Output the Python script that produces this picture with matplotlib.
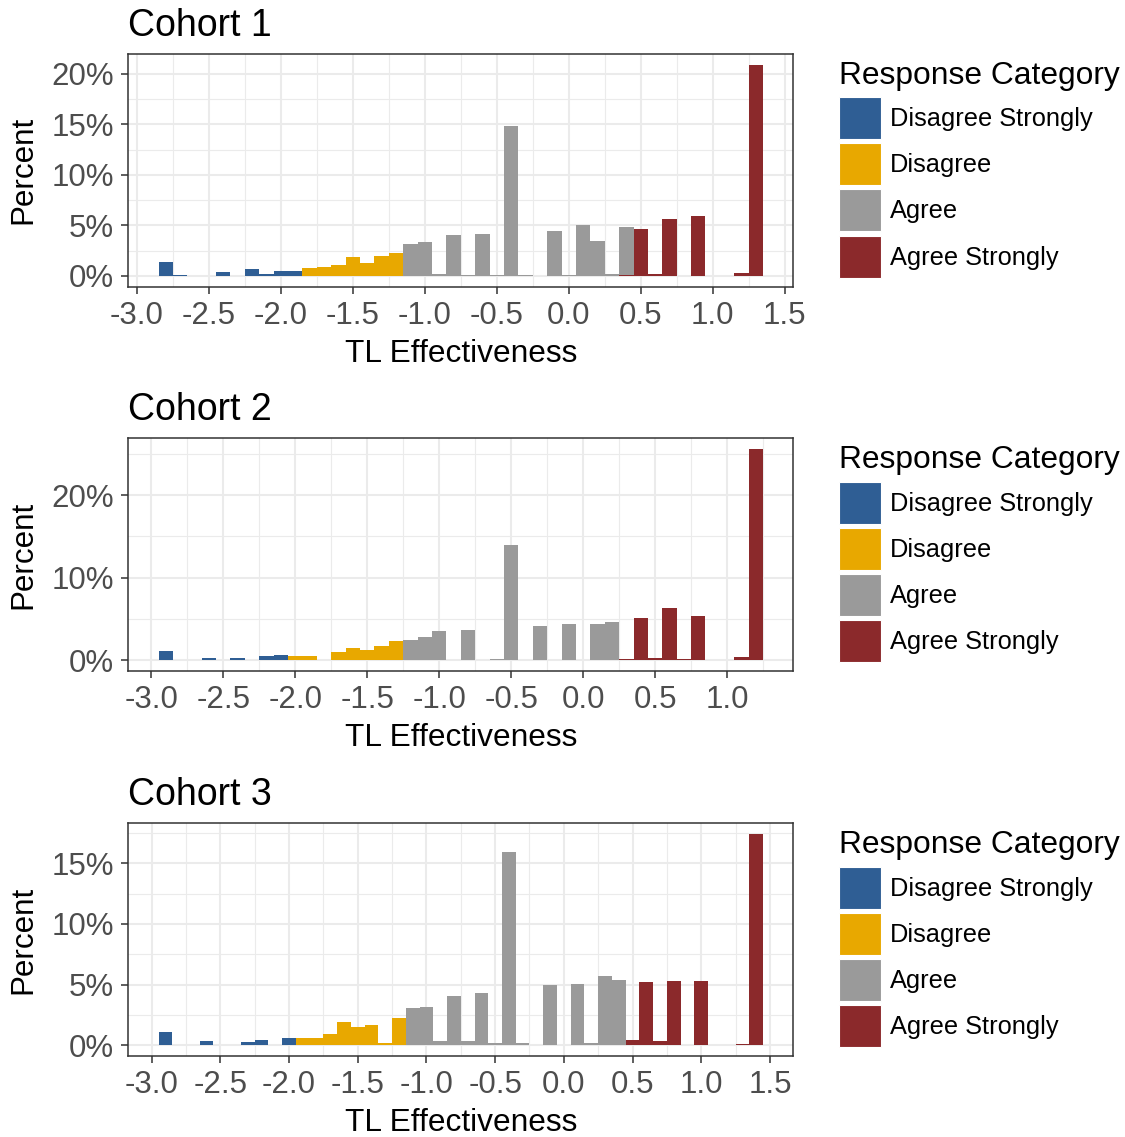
import matplotlib
matplotlib.use("Agg")
import matplotlib.pyplot as plt
import numpy as np
from matplotlib.patches import Patch
from matplotlib.ticker import MultipleLocator, FuncFormatter

plt.rcParams['font.family'] = ['Liberation Sans', 'DejaVu Sans']
plt.rcParams['axes.unicode_minus'] = False

# ---------------- data ----------------
categories = ["Disagree Strongly", "Disagree", "Agree", "Agree Strongly"]
colors = ["#2F5E94", "#E8A800", "#9A9A9A", "#8B292B"]
cohort_titles = ["Cohort 1", "Cohort 2", "Cohort 3"]
x_label = "TL Effectiveness"
y_label = "Percent"
legend_title = "Response Category"
bin_width = 0.1

# first bin centre of each cohort's histogram (bins are 0.1 wide)
first_bin = [-2.8, -2.9, -2.9]

# Cohort 1 (42 bins, -2.8 ... 1.3), percent per response category
c1_ds = [1.41, 0.10, 0, 0, 0.36, 0, 0.66, 0.16, 0.49, 0.49, 0, 0, 0, 0,
         0, 0, 0, 0, 0, 0, 0, 0, 0, 0, 0, 0, 0, 0,
         0, 0, 0, 0, 0, 0, 0, 0, 0, 0, 0, 0, 0, 0]
c1_d = [0, 0, 0, 0, 0, 0, 0, 0, 0, 0, 0.79, 0.85, 1.05, 1.90,
        1.31, 2.00, 2.26, 0, 0, 0, 0, 0, 0, 0, 0, 0, 0, 0,
        0, 0, 0, 0, 0, 0, 0, 0, 0, 0, 0, 0, 0, 0]
c1_a = [0, 0, 0, 0, 0, 0, 0, 0, 0, 0, 0, 0, 0, 0,
        0, 0, 0, 3.18, 3.31, 0.16, 4.07, 0.10, 4.10, 0.10, 14.85, 0.10, 0, 4.43,
        0.10, 5.08, 3.48, 0.15, 4.75, 0, 0, 0, 0, 0, 0, 0, 0, 0]
c1_as = [0, 0, 0, 0, 0, 0, 0, 0, 0, 0, 0, 0, 0, 0,
         0, 0, 0, 0, 0, 0, 0, 0, 0, 0, 0, 0, 0, 0,
         0, 0, 0, 0, 0.10, 4.69, 0.23, 5.60, 0, 5.97, 0, 0, 0.33, 20.90]

# Cohort 2 (42 bins, -2.9 ... 1.2)
c2_ds = [1.08, 0, 0, 0.28, 0, 0.28, 0.08, 0.56, 0.68, 0, 0, 0, 0, 0,
         0, 0, 0, 0, 0, 0, 0, 0, 0, 0, 0, 0, 0, 0,
         0, 0, 0, 0, 0, 0, 0, 0, 0, 0, 0, 0, 0, 0]
c2_d = [0, 0, 0, 0, 0, 0, 0, 0, 0, 0.56, 0.56, 0, 1.00, 1.53,
        1.20, 1.69, 2.37, 0, 0, 0, 0, 0, 0, 0, 0, 0, 0, 0,
        0, 0, 0, 0, 0, 0, 0, 0, 0, 0, 0, 0, 0, 0]
c2_a = [0, 0, 0, 0, 0, 0, 0, 0, 0, 0, 0, 0, 0, 0,
        0, 0, 0, 2.49, 2.77, 3.53, 0.08, 3.69, 0, 0.12, 13.98, 0, 4.10, 0.08,
        4.38, 0.08, 4.38, 4.66, 0, 0, 0, 0, 0, 0, 0, 0, 0, 0]
c2_as = [0, 0, 0, 0, 0, 0, 0, 0, 0, 0, 0, 0, 0, 0,
         0, 0, 0, 0, 0, 0, 0, 0, 0, 0, 0, 0, 0, 0,
         0, 0, 0, 0, 0.20, 5.06, 0.32, 6.30, 0.12, 5.38, 0, 0.05, 0.44, 25.60]

# Cohort 3 (44 bins, -2.9 ... 1.4)
c3_ds = [1.07, 0, 0, 0.33, 0, 0, 0.30, 0.44, 0, 0.60, 0, 0, 0, 0,
         0, 0, 0, 0, 0, 0, 0, 0, 0, 0, 0, 0, 0, 0,
         0, 0, 0, 0, 0, 0, 0, 0, 0, 0, 0, 0, 0, 0, 0, 0]
c3_d = [0, 0, 0, 0, 0, 0, 0, 0, 0, 0, 0.60, 0.60, 0.90, 1.89,
        1.53, 1.69, 0.22, 2.21, 0, 0, 0, 0, 0, 0, 0, 0, 0, 0,
        0, 0, 0, 0, 0, 0, 0, 0, 0, 0, 0, 0, 0, 0, 0, 0]
c3_a = [0, 0, 0, 0, 0, 0, 0, 0, 0, 0, 0, 0, 0, 0,
        0, 0, 0, 0, 3.11, 3.14, 0.38, 4.04, 0.33, 4.29, 0.19, 15.93, 0.16, 0,
        5.00, 0, 5.05, 0.22, 5.71, 5.41, 0, 0, 0, 0, 0, 0, 0, 0, 0, 0]
c3_as = [0, 0, 0, 0, 0, 0, 0, 0, 0, 0, 0, 0, 0, 0,
         0, 0, 0, 0, 0, 0, 0, 0, 0, 0, 0, 0, 0, 0,
         0, 0, 0, 0, 0, 0, 0.44, 5.22, 0.33, 5.33, 0, 5.27, 0, 0.03, 0.08, 17.43]

cohorts = [
    [c1_ds, c1_d, c1_a, c1_as],
    [c2_ds, c2_d, c2_a, c2_as],
    [c3_ds, c3_d, c3_a, c3_as],
]
y_major = [5, 10, 5]
x_ticks = [-3.0, -2.5, -2.0, -1.5, -1.0, -0.5, 0.0, 0.5, 1.0, 1.5]

# ---------------- layout ----------------
W, H = 1125, 1137
fig = plt.figure(figsize=(W / 100, H / 100), dpi=100)

ax_left, ax_right = 128.3, 793.3
ax_tops = [54.0, 438.3, 823.3]
ax_h = 232.5

border_col = "#333333"
grid_col = "#EBEBEB"
tick_text_col = "#4D4D4D"

for i, (series, title) in enumerate(zip(cohorts, cohort_titles)):
    top = ax_tops[i]
    ax = fig.add_axes([ax_left / W, 1 - (top + ax_h) / H,
                       (ax_right - ax_left) / W, ax_h / H])
    n = len(series[0])
    centers = first_bin[i] + bin_width * np.arange(n)
    # stack: last category at bottom (ggplot order)
    bottom = np.zeros(n)
    for cat_idx in [3, 2, 1, 0]:
        vals = np.array(series[cat_idx], dtype=float)
        mask = vals > 0
        ax.bar(centers[mask], vals[mask], width=bin_width, bottom=bottom[mask],
               color=colors[cat_idx], linewidth=0, align='center', zorder=3)
        bottom += vals
    # ggplot-like expansion
    xmin = centers[0] - bin_width / 2
    xmax = centers[-1] + bin_width / 2
    xr = xmax - xmin
    ymax = bottom.max()

    ax.set_xticks(x_ticks)
    ax.set_xticks([t + 0.25 for t in [-3.5] + x_ticks], minor=True)
    ax.yaxis.set_major_locator(MultipleLocator(y_major[i]))
    ax.yaxis.set_minor_locator(MultipleLocator(y_major[i] / 2))
    ax.set_xlim(xmin - 0.05 * xr, xmax + 0.05 * xr)
    ax.set_ylim(-0.05 * ymax, ymax * 1.05)
    ax.xaxis.set_major_formatter(FuncFormatter(lambda v, p: f"{v:.1f}"))
    ax.yaxis.set_major_formatter(FuncFormatter(lambda v, p: f"{v:.0f}%"))

    ax.grid(which='major', color=grid_col, linewidth=1.5, zorder=0)
    ax.grid(which='minor', color=grid_col, linewidth=0.8, zorder=0)
    ax.set_axisbelow(True)
    for sp in ax.spines.values():
        sp.set_color(border_col)
        sp.set_linewidth(1.1)
    ax.tick_params(which='major', length=5, width=1.1, color=border_col,
                   labelsize=22.5, labelcolor=tick_text_col, pad=5.5)
    ax.tick_params(which='minor', length=0)

    # title, axis labels
    fig.text(ax_left / W, 1 - (top - 18) / H, title, fontsize=27,
             ha='left', va='baseline', color='black')
    fig.text((ax_left + ax_right) / 2 / W, 1 - (top + 307.7) / H, x_label,
             fontsize=22.8, ha='center', va='baseline', color='black')
    fig.text(23.5 / W, 1 - (top + ax_h / 2) / H, y_label, fontsize=22.6,
             rotation=90, ha='center', va='center', color='black')

    handles = [Patch(facecolor=c, edgecolor='white', linewidth=0.8)
               for c in colors]
    leg = fig.legend(handles, categories, title=legend_title,
                     loc='upper left',
                     bbox_to_anchor=(839 / W, 1 - (top + 7) / H),
                     frameon=False, fontsize=18.3, title_fontsize=22.9,
                     handlelength=1.66, handleheight=2.167,
                     labelspacing=0.16, handletextpad=0.35,
                     borderpad=0, borderaxespad=0)
    leg._legend_box.align = "left"
    leg._legend_box.sep = 4.5

fig.savefig("out.png", dpi=100)
